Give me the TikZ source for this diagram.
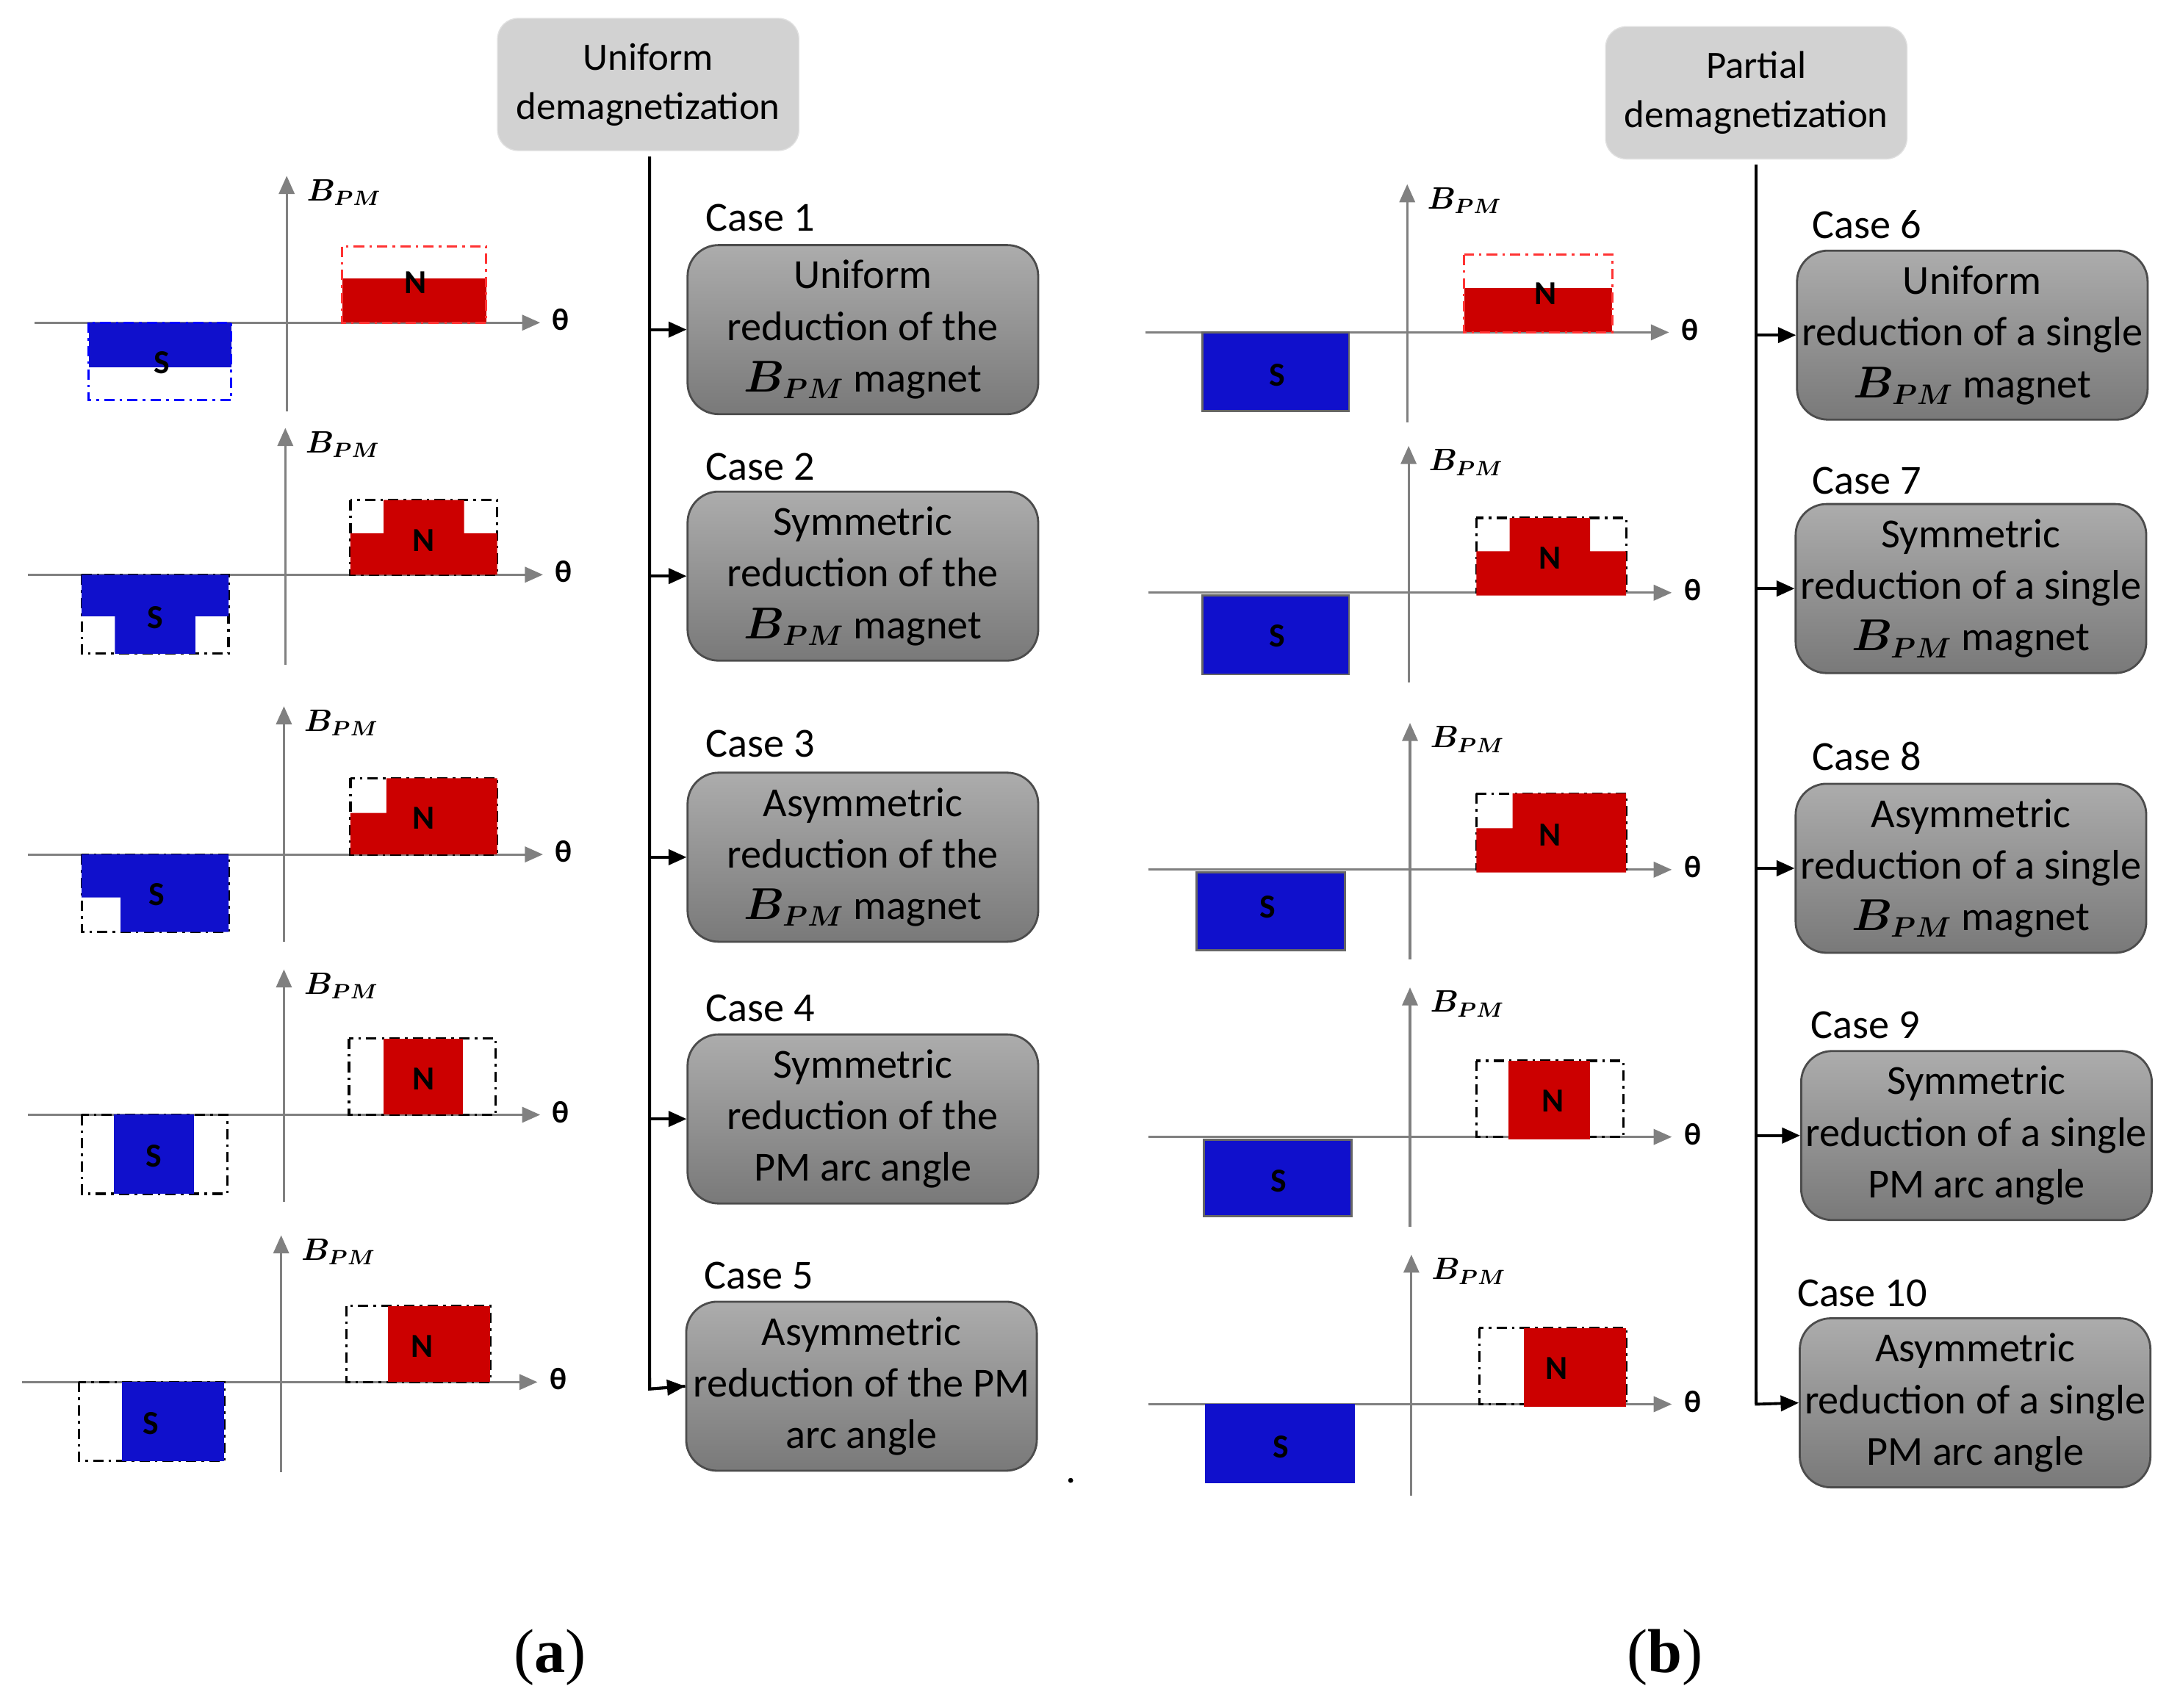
\documentclass[tikz,border=0pt]{standalone}
\usepackage{amsmath,bm}
\usepackage{fontspec}
\setmainfont{Carlito}
\usetikzlibrary{arrows.meta}

\definecolor{nred}{HTML}{CC0000}
\definecolor{sblue}{HTML}{1010CC}
\tikzset{
  axis/.style={draw=gray, line width=0.9pt, -{Triangle[length=7pt,width=6pt]}},
  trunk/.style={line width=1.1pt, -{Triangle[length=7pt,width=6pt]}},
  outl/.style={line width=0.9pt, dash pattern=on 4pt off 2pt on 1pt off 2pt},
  head/.style={fill=gray!35, draw=gray!25, rounded corners=8pt, align=center, font=\fontsize{15}{19}\selectfont, minimum width=4.1cm, minimum height=1.8cm},
  case/.style={draw=black!70, line width=0.8pt, rounded corners=12pt, top color=gray!65, bottom color=gray!95!black!100, align=center, font=\fontsize{16}{20}\selectfont, minimum width=4.77cm, minimum height=2.3cm, inner sep=1pt},
  clab/.style={anchor=west, font=\fontsize{16}{19}\selectfont},
  pole/.style={font=\bfseries\fontsize{13}{13}\selectfont},
}
% axes: name, axis y, x left, x right, vertical x, top, bottom
\newcommand{\magaxes}[7]{%
  \draw[axis] (#3,#2) -- (#4,#2);
  \draw[axis] (#5,#7) -- (#5,#6);
  \node[font=\bfseries\fontsize{12}{12}\selectfont] (th-#1) at (#4+15,#2-2) {θ};
  \node[anchor=west, font=\large] (b-#1) at (#5+8,#6+12) {$\bm{B_{PM}}$};
}

\begin{document}
\begin{tikzpicture}[x=0.01885cm, y=-0.01885cm]
\useasboundingbox[fill=white] (0,0) rectangle (1566,1233);

% ---- (a) uniform demagnetization
\magaxes{a1}{233}{25}{390}{207}{127}{297}
\fill[nred] (247,201) rectangle (351,233);
\draw[outl, red!80] (247,178) rectangle (351,233);
\fill[sblue] (64,233) rectangle (167,265);
\draw[outl, blue] (64,233) rectangle (167,289);
\node[pole] (n-a1) at (300,204) {N};
\node[pole] (s-a1) at (117,262) {S};

\magaxes{a2}{415}{20}{392}{206}{309}{480}
\draw[outl] (253,361) rectangle (359,415);
\fill[nred] (253,415) -- (253,385) -- (277,385) -- (277,361) -- (335,361) -- (335,385) -- (359,385) -- (359,415) -- cycle;
\draw[outl] (59,415) rectangle (165,472);
\fill[sblue] (59,415) -- (165,415) -- (165,445) -- (141,445) -- (141,472) -- (83,472) -- (83,445) -- (59,445) -- cycle;
\node[pole] (n-a2) at (306,390) {N};
\node[pole] (s-a2) at (112,446) {S};

\magaxes{a3}{617}{20}{392}{205}{510}{680}
\draw[outl] (253,562) rectangle (359,617);
\fill[nred] (253,617) -- (253,587) -- (279,587) -- (279,562) -- (359,562) -- (359,617) -- cycle;
\draw[outl] (59,617) rectangle (165,673);
\fill[sblue] (59,617) -- (165,617) -- (165,673) -- (87,673) -- (87,648) -- (59,648) -- cycle;
\node[pole] (n-a3) at (306,591) {N};
\node[pole] (s-a3) at (113,646) {S};

\magaxes{a4}{805}{20}{390}{205}{700}{868}
\draw[outl] (252,750) rectangle (358,805);
\fill[nred] (277,750) rectangle (334,805);
\draw[outl] (59,805) rectangle (164,862);
\fill[sblue] (82,805) rectangle (140,862);
\node[pole] (n-a4) at (306,779) {N};
\node[pole] (s-a4) at (111,835) {S};

\magaxes{a5}{998}{16}{388}{203}{892}{1063}
\draw[outl] (250,943) rectangle (354,998);
\fill[nred] (280,943) rectangle (354,998);
\draw[outl] (57,998) rectangle (162,1055);
\fill[sblue] (88,998) rectangle (162,1055);
\node[pole] (n-a5) at (305,972) {N};
\node[pole] (s-a5) at (109,1028) {S};

% ---- (b) partial demagnetization
\magaxes{b1}{240}{827}{1205}{1016}{133}{305}
\fill[nred] (1057,208) rectangle (1164,240);
\draw[outl, red!80] (1057,184) rectangle (1164,240);
\filldraw[fill=sblue, draw=black!60, line width=0.8pt] (868,240) rectangle (974,297);
\node[pole] (n-b1) at (1116,212) {N};
\node[pole] (s-b1) at (922,271) {S};

\magaxes{b2}{428}{829}{1207}{1017}{322}{493}
\draw[outl] (1066,374) rectangle (1174,428);
\fill[nred] (1066,430) -- (1066,398) -- (1090,398) -- (1090,374) -- (1148,374) -- (1148,398) -- (1174,398) -- (1174,430) -- cycle;
\filldraw[fill=sblue, draw=black!60, line width=0.8pt] (868,430) rectangle (974,487);
\node[pole] (n-b2) at (1119,403) {N};
\node[pole] (s-b2) at (922,459) {S};

\magaxes{b3}{628}{829}{1207}{1018}{522}{693}
\draw[outl] (1066,573) rectangle (1174,628);
\fill[nred] (1066,630) -- (1066,598) -- (1092,598) -- (1092,573) -- (1174,573) -- (1174,630) -- cycle;
\filldraw[fill=sblue, draw=black!60, line width=0.8pt] (864,630) rectangle (971,686);
\node[pole] (n-b3) at (1119,603) {N};
\node[pole] (s-b3) at (915,655) {S};

\magaxes{b4}{821}{829}{1207}{1018}{713}{886}
\draw[outl] (1066,766) rectangle (1172,821);
\fill[nred] (1089,766) rectangle (1148,823);
\filldraw[fill=sblue, draw=black!60, line width=0.8pt] (869,823) rectangle (976,878);
\node[pole] (n-b4) at (1121,795) {N};
\node[pole] (s-b4) at (923,853) {S};

\magaxes{b5}{1014}{829}{1207}{1019}{906}{1080}
\draw[outl] (1068,959) rectangle (1174,1014);
\fill[nred] (1100,959) rectangle (1174,1016);
\fill[sblue] (870,1014) rectangle (978,1071);
\node[pole] (n-b5) at (1124,988) {N};
\node[pole] (s-b5) at (925,1045) {S};

% ---- trees
\node[head] (uni) at (468,61) {Uniform\\demagnetization};
\node[head] (par) at (1268,67) {Partial\\demagnetization};

\node[case] (c1) at (623,238) {Uniform\\reduction of the\\$\bm{B_{PM}}$ magnet};
\node[case] (c2) at (623,416) {Symmetric\\reduction of the\\$\bm{B_{PM}}$ magnet};
\node[case] (c3) at (623,619) {Asymmetric\\reduction of the\\$\bm{B_{PM}}$ magnet};
\node[case] (c4) at (623,808) {Symmetric\\reduction of the\\PM arc angle};
\node[case] (c5) at (622,1001) {Asymmetric\\reduction of the PM\\arc angle};
\node[case] (c6) at (1424,242) {Uniform\\reduction of a single\\$\bm{B_{PM}}$ magnet};
\node[case] (c7) at (1423,425) {Symmetric\\reduction of a single\\$\bm{B_{PM}}$ magnet};
\node[case] (c8) at (1423,627) {Asymmetric\\reduction of a single\\$\bm{B_{PM}}$ magnet};
\node[case] (c9) at (1427,820) {Symmetric\\reduction of a single\\PM arc angle};
\node[case] (c10) at (1426,1013) {Asymmetric\\reduction of a single\\PM arc angle};

\foreach \i/\x/\y in {1/503/157, 2/503/337, 3/503/537, 4/503/728, 5/502/921, 6/1302/162, 7/1302/347, 8/1302/546, 9/1301/740, 10/1291/934}
  \node[clab] (l\i) at (\x,\y) {Case \i};

\coordinate (ta) at (469,113);
\coordinate (tb) at (1268,119);
\draw[line width=1.1pt] (ta) -- (469,1003) -- (c5.west);
\foreach \c in {c1,c2,c3,c4}
  \draw[trunk] (ta |- \c.west) -- (\c.west);
\draw[trunk] (469,995) -- (469,1003) -- (c5.west);
\draw[line width=1.1pt] (tb) -- (1268,1014);
\foreach \c in {c6,c7,c8,c9}
  \draw[trunk] (tb |- \c.west) -- (\c.west);
\draw[trunk] (1268,1005) -- (1268,1014) -- (c10.west);

\fill (773,1069) circle (1.8);
\node[font=\fontspec{Liberation Serif}\fontsize{24}{24}\selectfont] (capa) at (397,1197) {(\textbf{a})};
\node[font=\fontspec{Liberation Serif}\fontsize{24}{24}\selectfont] (capb) at (1202,1197) {(\textbf{b})};
\end{tikzpicture}
\end{document}
